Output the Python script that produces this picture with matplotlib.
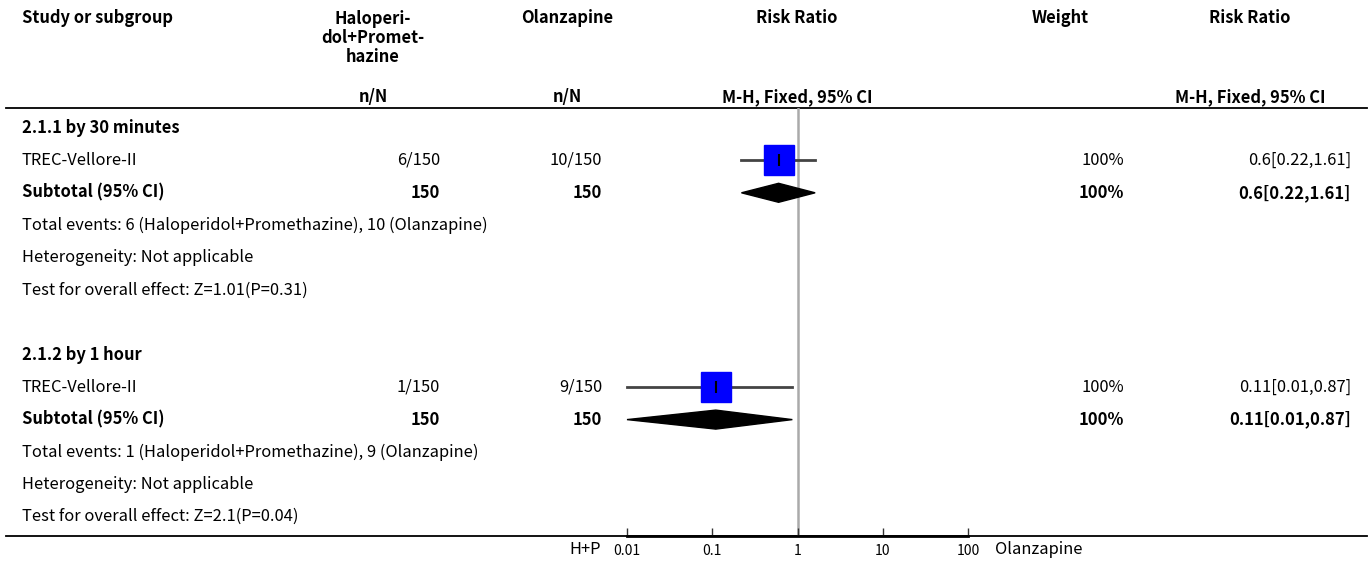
import numpy as np
import matplotlib.pyplot as plt
from matplotlib.patches import Polygon

plt.rcParams['font.family'] = ['Noto Sans CJK SC', 'DejaVu Sans']

# Study-level data
subgroups = ["2.1.1 by 30 minutes", "2.1.2 by 1 hour"]
study_names = ["TREC-Vellore-II", "TREC-Vellore-II"]
events_hp = [6, 1]
total_hp = [150, 150]
events_olz = [10, 9]
total_olz = [150, 150]
rr = [0.6, 0.11]
ci_low = [0.22, 0.01]
ci_high = [1.61, 0.87]
weights = ["100%", "100%"]
z_stats = ["1.01", "2.1"]
p_values = ["0.31", "0.04"]
xticks = [0.01, 0.1, 1, 10, 100]
xtick_labels = ["0.01", "0.1", "1", "10", "100"]

W, H = 1370, 561
fig = plt.figure(figsize=(W / 100, H / 100), dpi=100)

# full-figure axes in pixel units for the table text
tab = fig.add_axes([0, 0, 1, 1])
tab.set_xlim(0, W)
tab.set_ylim(H, 0)
tab.axis("off")

FS = 11.9
top_line, bottom_line = 108, 536
row0, row_step = 128, 32.4

# column headers
hdr = dict(fontsize=FS, fontweight="bold", va="center")
tab.text(22, 18, "Study or subgroup", ha="left", **hdr)
tab.text(373, 38, "Haloperi-\ndol+Promet-\nhazine", ha="center", linespacing=1.08, **hdr)
tab.text(567, 18, "Olanzapine", ha="center", **hdr)
tab.text(797, 18, "Risk Ratio", ha="center", **hdr)
tab.text(1060, 18, "Weight", ha="center", **hdr)
tab.text(1250, 18, "Risk Ratio", ha="center", **hdr)
tab.text(373, 97, "n/N", ha="center", **hdr)
tab.text(567, 97, "n/N", ha="center", **hdr)
tab.text(797, 97, "M-H, Fixed, 95% CI", ha="center", **hdr)
tab.text(1250, 97, "M-H, Fixed, 95% CI", ha="center", **hdr)

tab.plot([6, 1367], [top_line, top_line], color="black", lw=1.3)
tab.plot([6, 1367], [bottom_line, bottom_line], color="black", lw=1.3)

# forest plot axes, log scale, y in the same pixel units
ax = fig.add_axes([627 / W, 1 - bottom_line / H, (968 - 627) / W, (bottom_line - top_line) / H])
ax.set_xscale("log")
ax.set_xlim(0.01, 100)
ax.set_ylim(bottom_line, top_line)
ax.patch.set_alpha(0)
for s in ["top", "left", "right"]:
    ax.spines[s].set_visible(False)
ax.spines["bottom"].set_linewidth(2)
ax.set_xticks(xticks)
ax.set_xticklabels(xtick_labels)
ax.minorticks_off()
ax.tick_params(axis="x", direction="in", length=6, width=1, labelsize=10, pad=6, color="#333333")
ax.set_yticks([])
ax.axvline(1, color="#aaaaaa", lw=1.8, zorder=0)
tab.text(601, 549, "H+P", ha="right", va="center", fontsize=11.9)
tab.text(995, 549, "Olanzapine", ha="left", va="center", fontsize=11.9)

normal = dict(fontsize=FS, va="center")
bold = dict(fontsize=FS, va="center", fontweight="bold")
for g in range(len(subgroups)):
    r = g * 7
    y = [row0 + row_step * (r + k) for k in range(6)]
    tab.text(22, y[0], subgroups[g], ha="left", **bold)

    # study row
    tab.text(22, y[1], study_names[g], ha="left", **normal)
    tab.text(440, y[1], f"{events_hp[g]}/{total_hp[g]}", ha="right", **normal)
    tab.text(602, y[1], f"{events_olz[g]}/{total_olz[g]}", ha="right", **normal)
    tab.text(1124, y[1], weights[g], ha="right", **normal)
    tab.text(1351, y[1], f"{rr[g]}[{ci_low[g]},{ci_high[g]}]", ha="right", **normal)
    ax.plot([ci_low[g], ci_high[g]], [y[1], y[1]], color="#444444", lw=2, zorder=2, clip_on=False)
    ax.plot(rr[g], y[1], marker="s", ms=22, color="#0000ff", mec="#0000ff", lw=0, zorder=3)
    ax.plot(rr[g], y[1], marker="|", ms=9, mew=1.5, color="black", zorder=4)

    # subtotal row
    tab.text(22, y[2], "Subtotal (95% CI)", ha="left", **bold)
    tab.text(440, y[2], f"{total_hp[g]}", ha="right", **bold)
    tab.text(602, y[2], f"{total_olz[g]}", ha="right", **bold)
    tab.text(1124, y[2], weights[g], ha="right", **bold)
    tab.text(1351, y[2], f"{rr[g]}[{ci_low[g]},{ci_high[g]}]", ha="right", **bold)
    half = 9.5
    ax.add_patch(Polygon([(ci_low[g], y[2]), (rr[g], y[2] - half), (ci_high[g], y[2]), (rr[g], y[2] + half)],
                         closed=True, color="black", zorder=3, clip_on=False))

    tab.text(22, y[3], f"Total events: {events_hp[g]} (Haloperidol+Promethazine), {events_olz[g]} (Olanzapine)",
             ha="left", **normal)
    tab.text(22, y[4], "Heterogeneity: Not applicable", ha="left", **normal)
    tab.text(22, y[5], f"Test for overall effect: Z={z_stats[g]}(P={p_values[g]})", ha="left", **normal)

fig.savefig("out.png", dpi=100)
